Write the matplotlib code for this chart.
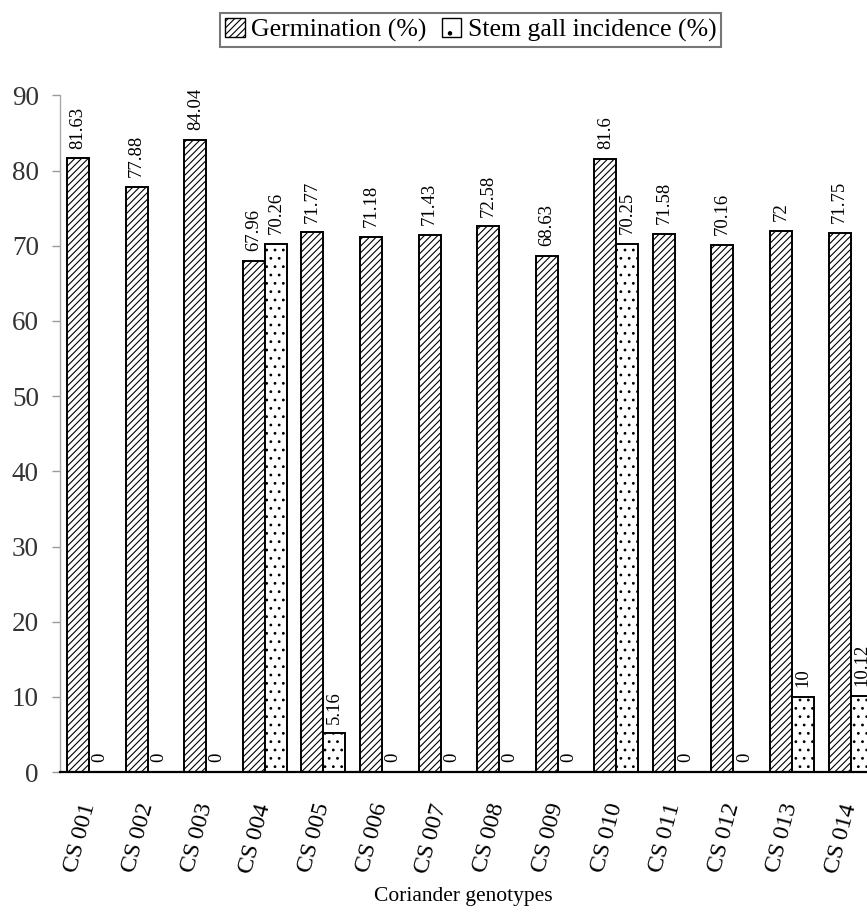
import matplotlib
matplotlib.use("Agg")
import matplotlib.pyplot as plt
import numpy as np
from matplotlib.patches import Patch

plt.rcParams['font.family'] = ['Liberation Serif', 'DejaVu Serif']
plt.rcParams['mathtext.fontset'] = 'custom'
plt.rcParams['mathtext.rm'] = 'Liberation Serif'
plt.rcParams['mathtext.it'] = 'Liberation Serif:italic'
plt.rcParams['hatch.linewidth'] = 0.8

genotypes = ["001", "002", "003", "004", "005", "006", "007",
             "008", "009", "010", "011", "012", "013", "014"]
germination = [81.63, 77.88, 84.04, 67.96, 71.77, 71.18, 71.43,
               72.58, 68.63, 81.6, 71.58, 70.16, 72, 71.75]
stem_gall = [0, 0, 0, 70.26, 5.16, 0, 0, 0, 0, 70.25, 0, 0, 10, 10.12]
germ_txt = ["81.63", "77.88", "84.04", "67.96", "71.77", "71.18", "71.43",
            "72.58", "68.63", "81.6", "71.58", "70.16", "72", "71.75"]
gall_txt = ["0", "0", "0", "70.26", "5.16", "0", "0", "0", "0",
            "70.25", "0", "0", "10", "10.12"]

fig = plt.figure(figsize=(8.67, 9.17), dpi=100)
ax = fig.add_axes([0.069, 0.158, 0.931, 0.738])

x = np.arange(len(genotypes))
w = 0.375
ax.bar(x - w/2, germination, w, color='white', edgecolor='black',
       hatch='/////', linewidth=1.4)
ax.bar(x + w/2, stem_gall, w, color='white', edgecolor='black',
       hatch='..', linewidth=1.4)

for xi, v, t in zip(x, germination, germ_txt):
    ax.text(xi - w/2, v + 1.3, t, rotation=90, ha='center', va='bottom',
            fontsize=13.5)
for xi, v, t in zip(x, stem_gall, gall_txt):
    ax.text(xi + w/2, v + 1.3, t, rotation=90, ha='center', va='bottom',
            fontsize=13.5)

ax.set_xlim(-0.5, 13.28)
ax.set_ylim(0, 90)
ax.set_yticks(np.arange(0, 91, 10))
ax.tick_params(axis='y', labelsize=19.5, colors='#999999', length=6,
               width=1, pad=9)
for lb in ax.get_yticklabels():
    lb.set_color('#333333')
ax.set_xticks(x)
ax.set_xticklabels(["CS $\\mathit{" + g + "}$" for g in genotypes],
                   rotation=75, ha='right', va='center',
                   rotation_mode='anchor', fontsize=17.5)
ax.tick_params(axis='x', length=0, pad=22)

ax.spines['top'].set_visible(False)
ax.spines['right'].set_visible(False)
ax.spines['left'].set_color('#aaaaaa')
ax.spines['left'].set_linewidth(1)
ax.spines['bottom'].set_linewidth(1.6)

fig.text(0.534, 0.022, "Coriander genotypes", ha='center', va='center',
         fontsize=15.5)

handles = [Patch(facecolor='white', edgecolor='black', hatch='/////'),
           Patch(facecolor='white', edgecolor='black', hatch='.')]
leg = fig.legend(handles, ["Germination (%)", "Stem gall incidence (%)"],
                 loc='center', bbox_to_anchor=(0.543, 0.967), ncol=2,
                 fontsize=18.5, frameon=True, fancybox=False,
                 handlelength=0.75, handleheight=0.75, handletextpad=0.25,
                 columnspacing=0.6, borderpad=0.2, borderaxespad=0)
leg.get_frame().set_edgecolor('#555555')
leg.get_frame().set_linewidth(1.5)

fig.savefig("out.png", dpi=100)
